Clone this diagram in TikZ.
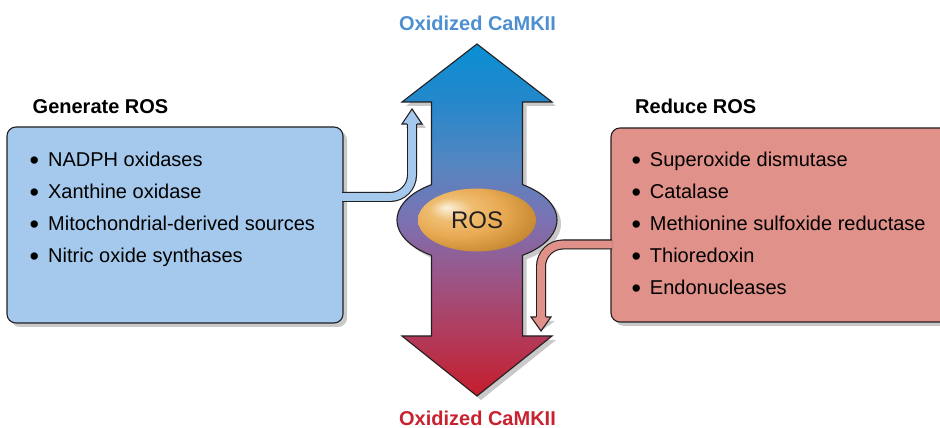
\documentclass[tikz,border=0pt]{standalone}
\usepackage{fontspec}
\setmainfont{Liberation Sans}
\usetikzlibrary{shapes.geometric,shadows}
\definecolor{outl}{HTML}{231F20}
\definecolor{shadowgray}{HTML}{C9C9C9}
\definecolor{genfill}{HTML}{A5C9EC}
\definecolor{redfill}{HTML}{E0918A}
\definecolor{camkblue}{HTML}{4D8FD0}
\definecolor{camkred}{HTML}{C8222F}
\definecolor{arBlue}{HTML}{0A8FD3}
\definecolor{arBlueB}{HTML}{2587CB}
\definecolor{arBlueC}{HTML}{5586C1}
\definecolor{arPur}{HTML}{7B72B3}
\definecolor{arMag}{HTML}{9C5586}
\definecolor{arRedB}{HTML}{B23A5A}
\definecolor{arRed}{HTML}{C61D2C}
\definecolor{rosA}{HTML}{FBF1DE}
\definecolor{rosB}{HTML}{EFBE72}
\definecolor{rosC}{HTML}{E8A953}
\definecolor{rosD}{HTML}{C4862F}
\definecolor{rosE}{HTML}{9A6420}
\pgfdeclareverticalshading{bigarrowshade}{100bp}{color(0bp)=(arRed); color(25bp)=(arRed); color(33.5bp)=(arRedB); color(41.8bp)=(arMag); color(50bp)=(arPur); color(58bp)=(arBlueC); color(66.8bp)=(arBlueB); color(75bp)=(arBlue); color(100bp)=(arBlue)}
\pgfdeclareradialshading{rosshade}{\pgfpoint{-13bp}{10bp}}{color(0bp)=(rosA); color(9bp)=(rosB); color(20bp)=(rosC); color(33bp)=(rosD); color(42bp)=(rosE); color(60bp)=(rosE)}
\newcommand{\bigbul}{\raisebox{-2.5pt}{\scalebox{1.35}{•}}\hspace{9pt}}
\tikzset{
  boxstyle/.style={draw=outl, line width=1.1pt, rounded corners=9pt,
    drop shadow={shadow xshift=4pt, shadow yshift=-4pt, fill=shadowgray, opacity=1},
    inner sep=0pt},
  titlefont/.style={font=\fontsize{20}{24}\selectfont\bfseries, inner sep=0pt},
  itemfont/.style={font=\fontsize{20}{24}\selectfont, anchor=base west, inner sep=0pt, text=black},
  bandout/.style={draw=outl, line width=10pt},
  bandshadow/.style={draw=shadowgray, line width=10pt},
  headline/.style={draw=outl, line width=1.1pt, line join=miter},
}
\begin{document}
\begin{tikzpicture}[x=1pt,y=1pt]
\clip (0,0) rectangle (940,428);
% connector key points
\coordinate (lcA) at (342,231);
\coordinate (lcB) at (390,231);
\coordinate (lcC) at (412,304);
\coordinate (lcT) at (412,319);
\coordinate (rcA) at (612,183.5);
\coordinate (rcB) at (563,183.5);
\coordinate (rcC) at (541,111);
\coordinate (rcT) at (541,97);
% ---------- shadows ----------
\fill[shadowgray, shift={(4,-4)}] (477,384) -- (552,326) -- (522.5,326) -- (522.5,243.4)
   arc[start angle=55.34, end angle=-55.34, x radius=80, y radius=43]
   -- (522.5,92) -- (552,92) -- (477,32) -- (402,92) -- (431.5,92) -- (431.5,172.6)
   arc[start angle=235.34, end angle=124.66, x radius=80, y radius=43]
   -- (431.5,326) -- (402,326) -- cycle;
\begin{scope}[shift={(4,-4)}]
  \draw[bandshadow] (lcA) -- (lcB) arc[start angle=-90, end angle=0, radius=22] -- (lcC);
  \fill[shadowgray] (402,304) -- (lcT) -- (422,304) -- cycle;
  \draw[bandshadow] (rcA) -- (rcB) arc[start angle=90, end angle=180, radius=22] -- (rcC);
  \fill[shadowgray] (531,111) -- (rcT) -- (551,111) -- cycle;
\end{scope}
% ---------- boxes ----------
\node[boxstyle, fill=genfill, minimum width=336pt, minimum height=196pt] (genbox) at (175,203) {};
\node[boxstyle, fill=redfill, minimum width=350pt, minimum height=194pt] (redbox) at (786,203) {};
% ---------- big double arrow ----------
\shadedraw[shading=bigarrowshade, draw=outl, line width=1.1pt, line join=miter]
   (477,384) -- (552,326) -- (522.5,326) -- (522.5,243.4)
   arc[start angle=55.34, end angle=-55.34, x radius=80, y radius=43]
   -- (522.5,92) -- (552,92) -- (477,32) -- (402,92) -- (431.5,92) -- (431.5,172.6)
   arc[start angle=235.34, end angle=124.66, x radius=80, y radius=43]
   -- (431.5,326) -- (402,326) -- cycle;
\node[ellipse, shade, shading=rosshade, minimum width=118pt, minimum height=63pt, inner sep=0pt,
      font=\fontsize{24}{28}\selectfont, text=outl] (ros) at (477,208) {ROS};
% ---------- connectors ----------
\draw[bandout] (lcA) -- (lcB) arc[start angle=-90, end angle=0, radius=22] -- (lcC);
\draw[genfill, line width=7.8pt] (lcA) -- (lcB) arc[start angle=-90, end angle=0, radius=22] -- (lcC);
\fill[genfill] (402,304) -- (lcT) -- (422,304) -- cycle;
\draw[headline] (407,304) -- (402,304) -- (lcT) -- (422,304) -- (417,304);
\draw[bandout] (rcA) -- (rcB) arc[start angle=90, end angle=180, radius=22] -- (rcC);
\draw[redfill, line width=7.8pt] (rcA) -- (rcB) arc[start angle=90, end angle=180, radius=22] -- (rcC);
\fill[redfill] (531,111) -- (rcT) -- (551,111) -- cycle;
\draw[headline] (536,111) -- (531,111) -- (rcT) -- (551,111) -- (546,111);
% ---------- texts ----------
\node[titlefont, text=camkblue] (oxtop) at (477.5,405) {Oxidized CaMKII};
\node[titlefont, text=camkred] (oxbot) at (477.5,10) {Oxidized CaMKII};
\node[titlefont, anchor=base west, text=black] (gentitle) at (32.5,314) {Generate ROS};
\node[titlefont, anchor=base west, text=black] (redtitle) at (635,314) {Reduce ROS};
\node[itemfont] (g1) at (29.5,261) {\bigbul NADPH oxidases};
\node[itemfont] (g2) at (29.5,229) {\bigbul Xanthine oxidase};
\node[itemfont] (g3) at (29.5,197) {\bigbul Mitochondrial-derived sources};
\node[itemfont] (g4) at (29.5,165) {\bigbul Nitric oxide synthases};
\node[itemfont] (r1) at (631.3,261) {\bigbul Superoxide dismutase};
\node[itemfont] (r2) at (631.3,229) {\bigbul Catalase};
\node[itemfont] (r3) at (631.3,197) {\bigbul Methionine sulfoxide reductase};
\node[itemfont] (r4) at (631.3,165) {\bigbul Thioredoxin};
\node[itemfont] (r5) at (631.3,133) {\bigbul Endonucleases};
\end{tikzpicture}
\end{document}
